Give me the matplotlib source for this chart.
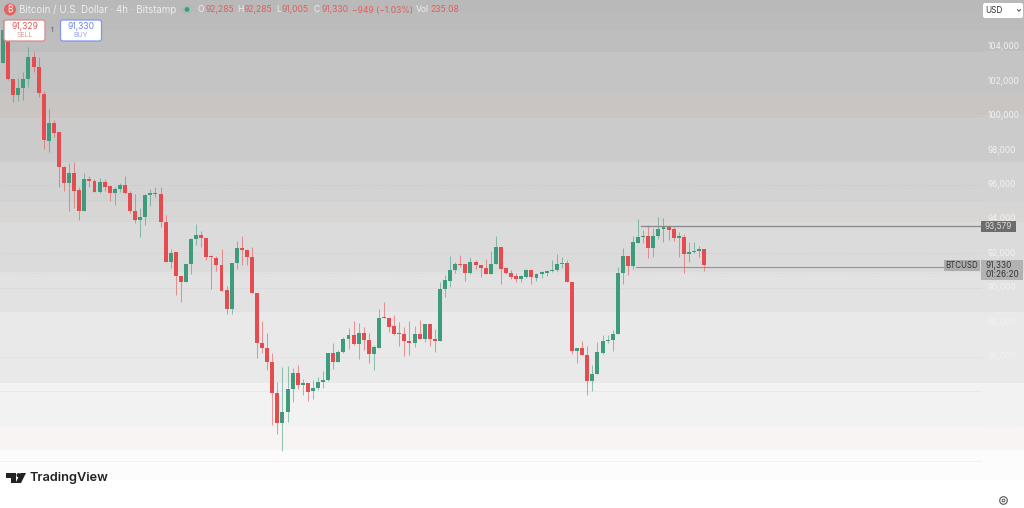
import matplotlib
matplotlib.use('Agg')
import matplotlib.pyplot as plt
from matplotlib.patches import FancyBboxPatch, Circle, Polygon, Rectangle

# OHLC candles (4h BTC/USD)
opens = [103070, 104810, 102140, 101210, 101620, 102140, 103420, 102840, 101270, 98530,
         99580, 99060, 97020, 96090, 96670, 95690, 94460, 96330, 96210, 95570,
         96150, 95920, 95510, 95740, 95980, 95510, 94460, 93940, 94120, 95400,
         95510, 95450, 93830, 91500, 92080, 90690, 90340, 91380, 92840, 93070,
         92900, 91850, 91730, 91320, 89870, 88770, 91440, 92310, 92200, 91790,
         89700, 86790, 86500, 85690, 83880, 82140, 82780, 84120, 85050, 84350,
         84470, 84000, 84170, 84520, 84640, 86210, 85690, 86270, 87020, 87260,
         86730, 87370, 86960, 86150, 86500, 88300, 88240, 87780, 87370, 87310,
         86910, 86790, 87310, 87020, 87900, 87020, 86910, 89930, 90400, 91030,
         91380, 91380, 90860, 91500, 91320, 91150, 90800, 91380, 92370, 91150,
         90860, 90690, 90510, 90630, 91030, 90570, 90800, 90860, 90980, 91030,
         91380, 91440, 90340, 86330, 86500, 86090, 84580, 84990, 86210, 86910,
         86960, 87310, 90860, 91850, 91270, 92600, 92950, 93010, 92310, 93010,
         93420, 93530, 93420, 92900, 92950, 91960, 92080, 92140, 92260]
highs = [105570, 105100, 102140, 102200, 102550, 104000, 103710, 103420, 101440, 100400,
         99760, 99060, 97080, 97260, 97310, 95860, 96670, 96500, 96330, 96380,
         96330, 95920, 95860, 96090, 96500, 95630, 95450, 94640, 95450, 95740,
         95860, 95860, 94230, 92260, 92080, 90690, 91380, 92900, 93710, 93300,
         92900, 91910, 91850, 92260, 90100, 91440, 92720, 93010, 92260, 92370,
         89700, 88070, 87370, 86210, 84520, 85400, 85450, 85340, 85510, 84700,
         84470, 84640, 84810, 85160, 86210, 86790, 86380, 87140, 87660, 88070,
         87950, 87720, 87370, 86670, 88770, 89170, 88240, 88420, 88010, 87720,
         88070, 87780, 88130, 87900, 87900, 87600, 90340, 90740, 91850, 91500,
         91910, 91380, 91790, 91620, 91320, 91670, 92140, 93010, 92370, 91210,
         91030, 90860, 90740, 91090, 91090, 90860, 90980, 91030, 91620, 91960,
         91790, 91620, 90340, 86500, 86910, 86620, 85510, 86850, 87260, 87260,
         87550, 91210, 92310, 91850, 93010, 94000, 93360, 93650, 93480, 94120,
         94060, 93650, 93530, 93240, 93130, 92660, 92660, 92430, 92260]
lows = [103070, 102080, 100800, 100860, 100920, 101670, 102550, 101090, 98070, 97890,
        98770, 95860, 95630, 94460, 94640, 93940, 94460, 95860, 95570, 95510,
        95630, 95050, 94810, 95570, 95450, 94350, 93770, 92950, 93650, 94760,
        95280, 93530, 91500, 91150, 89580, 89170, 90340, 90800, 92490, 92370,
        91620, 89930, 90980, 89810, 88480, 88480, 91090, 91320, 91320, 89700,
        85920, 86210, 85220, 82020, 81500, 80510, 82200, 83360, 84120, 83770,
        83420, 83530, 84060, 84170, 84580, 85280, 85690, 86210, 86440, 86670,
        85860, 86380, 85630, 85220, 86500, 88240, 87430, 87260, 86620, 86030,
        86090, 86560, 87020, 86850, 86620, 86270, 86910, 89470, 90050, 90860,
        91210, 90400, 90800, 91090, 90630, 90800, 90800, 91380, 90220, 90800,
        90510, 90340, 90340, 90570, 90220, 90400, 90570, 90690, 90920, 90980,
        91150, 90340, 86150, 85630, 86090, 83770, 84000, 84990, 86150, 86790,
        86330, 87310, 90220, 90740, 91090, 92600, 92600, 91730, 91790, 92840,
        92660, 92780, 92720, 91790, 90860, 91500, 92020, 91790, 90980]
closes = [104990, 102140, 101210, 101620, 102140, 103420, 102840, 101320, 98590, 99580,
          99000, 97020, 96090, 96670, 95630, 94460, 96330, 96210, 95570, 96150,
          95860, 95510, 95740, 95980, 95510, 94460, 93940, 94120, 95400, 95510,
          95450, 93830, 91500, 92020, 90690, 90340, 91380, 92840, 93070, 92900,
          91790, 91790, 91320, 89810, 88770, 91440, 92310, 92200, 91790, 89700,
          86790, 86500, 85690, 83880, 82140, 82780, 84120, 85050, 84350, 84470,
          83940, 84170, 84520, 84640, 86210, 85690, 86270, 87020, 87260, 86730,
          87370, 86960, 86150, 86560, 88240, 88240, 87720, 87310, 87310, 86910,
          86790, 87310, 87020, 87900, 87020, 86910, 89930, 90450, 91030, 91380,
          91320, 90860, 91500, 91320, 91150, 90800, 91380, 92370, 91090, 90860,
          90630, 90510, 90690, 91030, 90630, 90800, 90920, 90980, 91030, 91380,
          91440, 90340, 86330, 86500, 86090, 84580, 84990, 86270, 86910, 86960,
          87310, 90860, 91850, 91270, 92660, 92950, 93010, 92310, 93010, 93420,
          93530, 93360, 92900, 93010, 91960, 92080, 92140, 92260, 91320]

axis_prices = [104000, 102000, 100000, 98000, 96000, 94000, 92000, 90000, 88000, 86000, 84000, 82000]
axis_labels = ['104,000', '102,000', '100,000', '98,000', '96,000', '94,000',
               '92,000', '90,000', '88,000', '86,000', '84,000', '82,000']
high_line = 93579
last_line = 91210

# background bands, pixel rows from the top
band_edges = [0, 12, 30, 51, 93, 115, 162, 202, 222, 272, 312, 383, 427, 450, 480, 508]
band_colors = ['#b9b9b9', '#bbbbbb', '#bebebe', '#c4c4c4', '#c9c5c2', '#cbcbcb', '#d3d3d3',
               '#d7d6d4', '#dbdbdb', '#e2e2e2', '#e9e9e9', '#f2f2f2', '#f8f4f3', '#fdfcfc', '#ffffff']

RED = '#e44c50'
GREEN = '#3f9b7e'
FONT = ['Inter', 'Noto Sans', 'Roboto', 'DejaVu Sans']

fig = plt.figure(figsize=(10.24, 5.08), dpi=100)

# pixel axes for the page furniture
px = fig.add_axes([0, 0, 1, 1])
px.set_xlim(0, 1024)
px.set_ylim(508, 0)
px.axis('off')

for i in range(len(band_colors)):
    px.add_patch(Rectangle((0, band_edges[i]), 1024, band_edges[i + 1] - band_edges[i],
                           fc=band_colors[i], ec='none', zorder=0))

# candle axes, same area as the pixel axes
ax = fig.add_axes([0, 0, 1, 1], facecolor='none')
ax.set_xlim(-0.6, 200.96)
ax.set_ylim(77198, 106732)
ax.axis('off')

# faint grid lines
for y, col, ls in [(51, '#bcbcbc', '-'), (116, '#cdbfbc', '-'), (185, '#c8c8c8', ':'),
                   (200, '#cfcfcf', ':'), (253, '#d0d0d0', ':'), (273, '#d8d8d8', ':'),
                   (288, '#dbdbdb', '-'), (357, '#e2e2e2', '-'), (391, '#e8e8e8', '-'),
                   (461, '#f8eeee', '-')]:
    px.plot([0, 981], [y, y], color=col, lw=0.7, ls=ls, zorder=1)

xs = list(range(len(opens)))
for i in xs:
    col = GREEN if closes[i] >= opens[i] else RED
    ax.plot([i, i], [lows[i], highs[i]], color=col, lw=0.75, alpha=0.55, solid_capstyle='butt', zorder=2)
    bottom = min(opens[i], closes[i])
    ax.bar(i, max(abs(closes[i] - opens[i]), 60), 0.78, bottom=bottom, color=col, lw=0, zorder=3)

# price lines
ax.plot([125.5, 192.5], [high_line, high_line], color='#8c8c8c', lw=1.0, zorder=4)
ax.plot([124.5, 185.5], [last_line, last_line], color='#939393', lw=0.8, zorder=4)

# axis labels
for p, lab in zip(axis_prices, axis_labels):
    ax.text(193.8, p, lab, color='#f2f2f2', fontsize=5.9, va='center', ha='left',
            family=FONT, zorder=5)

px.set_zorder(0)
ax.set_zorder(1)

top = fig.add_axes([0, 0, 1, 1], facecolor='none')
top.set_xlim(0, 1024)
top.set_ylim(508, 0)
top.axis('off')
top.set_zorder(2)

# price tags
top.add_patch(Rectangle((981, 221), 35, 11, fc='#6c6c6c', ec='none'))
top.text(998.5, 226.7, '93,579', color='#d8d8d8', fontsize=5.9, ha='center', va='center', family=FONT)
top.add_patch(Rectangle((944, 260), 36, 11, fc='#acacac', ec='none'))
top.text(962, 265.5, 'BTCUSD', color='#333333', fontsize=5.7, ha='center', va='center', family=FONT)
top.add_patch(Rectangle((981, 260), 42, 20, fc='#b2b2b2', ec='none'))
top.text(986, 265.5, '91,330', color='#333333', fontsize=5.9, ha='left', va='center', family=FONT)
top.text(986, 274.5, '01:26:20', color='#333333', fontsize=5.9, ha='left', va='center', family=FONT)

# header line
top.add_patch(Circle((10, 9.5), 6, fc='#e0645f', ec='none'))
top.text(10, 9.7, '\u20bf', color='white', fontsize=6, ha='center', va='center', family=FONT)
top.text(19, 10, 'Bitcoin / U.S. Dollar \u00b7 4h \u00b7 Bitstamp', color='#eeeeee', fontsize=7.0,
         ha='left', va='center', family=FONT)
top.add_patch(Circle((187, 9.5), 5, fc='#a9bcb5', ec='none'))
top.add_patch(Circle((187, 9.5), 2.4, fc=GREEN, ec='none'))
x_pos = [198, 237, 276, 314]
val_pos = [205, 244, 282, 321]
for x, x2, a, b in zip(x_pos, val_pos, ['O', 'H', 'L', 'C'], ['92,285', '92,285', '91,005', '91,330']):
    top.text(x, 10, a, color='#eeeeee', fontsize=6.2, ha='left', va='center', family=FONT)
    top.text(x2, 10, b, color='#e0605f', fontsize=6.2, ha='left', va='center', family=FONT)
top.text(352, 10, '\u2212949 (\u22121.03%)', color='#e0605f', fontsize=6.2, ha='left', va='center', family=FONT)
top.text(416, 10, 'Vol', color='#eeeeee', fontsize=6.2, ha='left', va='center', family=FONT)
top.text(430, 10, '235.08', color='#e0605f', fontsize=6.2, ha='left', va='center', family=FONT)

# sell and buy buttons
top.add_patch(FancyBboxPatch((4, 20), 41, 21, boxstyle='round,pad=0,rounding_size=2.5', fc='white', ec='#dc8a8a', lw=0.9))
top.add_patch(FancyBboxPatch((60.5, 20), 41, 21, boxstyle='round,pad=0,rounding_size=2.5', fc='white', ec='#8296ec', lw=0.9))
top.text(24.5, 26.5, '91,329', color='#e0605f', fontsize=6.2, ha='center', va='center', family=FONT)
top.text(24.5, 35.3, 'SELL', color='#d99a9a', fontsize=5, ha='center', va='center', family=FONT)
top.text(81, 26.5, '91,330', color='#6f86ea', fontsize=6.2, ha='center', va='center', family=FONT)
top.text(81, 35.3, 'BUY', color='#93a4ee', fontsize=5, ha='center', va='center', family=FONT)
top.text(52.5, 30.5, '1', color='#555555', fontsize=5, ha='center', va='center', family=FONT)

# currency selector
top.add_patch(FancyBboxPatch((983, 3), 40, 15, boxstyle='round,pad=0,rounding_size=2', fc='white', ec='none'))
top.text(985.5, 10.5, 'USD', color='#333333', fontsize=5.9, ha='left', va='center', family=FONT)
top.plot([1017.5, 1019, 1020.5], [9.7, 11.2, 9.7], color='#444444', lw=0.7)

# TradingView logo
top.add_patch(Polygon([(6, 473), (16, 473), (16, 483), (10.5, 483), (10.5, 477.5), (6, 477.5)], fc='#222222', ec='none'))
top.add_patch(Circle((18.6, 475.2), 2.1, fc='#222222', ec='none'))
top.add_patch(Polygon([(20.5, 473), (26, 473), (21, 483), (15.5, 483)], fc='#222222', ec='none'))
top.text(29.5, 478, 'TradingView', color='#222222', fontsize=9.2, fontweight='semibold', ha='left', va='center', family=FONT)

# settings icon
top.add_patch(Circle((1003.5, 500.5), 3.8, fc='none', ec='#555555', lw=0.8))
top.add_patch(Circle((1003.5, 500.5), 1.4, fc='none', ec='#555555', lw=0.7))

fig.savefig('out.png', dpi=100)
